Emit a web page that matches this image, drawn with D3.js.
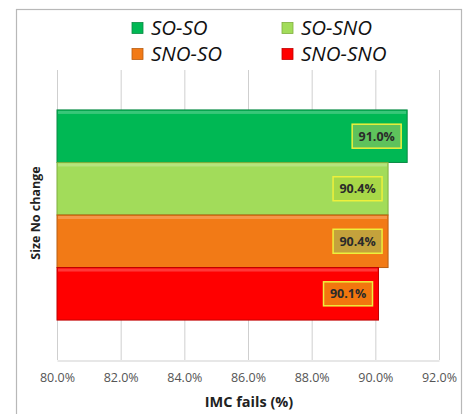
<!DOCTYPE html>
<html>
<head>
<meta charset="utf-8">
<script src="https://cdn.jsdelivr.net/npm/d3@7/dist/d3.min.js"></script>
<style>
  html, body { margin: 0; padding: 0; background: #fff; }
  svg { display: block; }
</style>
</head>
<body>
<svg id="chart" width="464" height="414"></svg>
<script>
// Chart data
const group = ["Size No change"];
const seriesNames = ["SO-SO", "SO-SNO", "SNO-SO", "SNO-SNO"];
const seriesValues = [91.0, 90.4, 90.4, 90.1];
const seriesColors = ["#00b854", "#a2dc5a", "#f27a16", "#ff0000"];
const edgeColors = ["#0a8a44", "#7fae3e", "#b85e12", "#c00000"];
const labelFills = ["#5ec25c", "#a8d848", "#c4a23c", "#f2760e"];
const xTicks = [80, 82, 84, 86, 88, 90, 92];

const svg = d3.select("#chart");
const plot = { left: 57, right: 439, top: 70, bottom: 360 };
const font = "'Open Sans', 'Liberation Sans', sans-serif";

// Outer chart frame
svg.append("rect")
  .attr("x", 16.5).attr("y", 9.5)
  .attr("width", 445).attr("height", 420)
  .attr("fill", "#fff").attr("stroke", "#b8b8b8").attr("stroke-width", 1.2);

const x = d3.scaleLinear().domain([80, 92]).range([plot.left, plot.right]);
const y0 = d3.scaleBand().domain(group).range([plot.top, plot.bottom]).paddingInner(0).paddingOuter(0.19);
const y1 = d3.scaleBand().domain(seriesNames).range([0, y0.bandwidth()]).padding(0);

// Vertical gridlines
svg.append("g").selectAll("line").data(xTicks).join("line")
  .attr("x1", d => x(d) + 0.5).attr("x2", d => x(d) + 0.5)
  .attr("y1", plot.top).attr("y2", plot.bottom)
  .attr("stroke", "#cfcfcf").attr("stroke-width", 1);

// Bottom axis
const xAxis = d3.axisBottom(x).tickValues(xTicks).tickSize(0).tickPadding(13)
  .tickFormat(d => d.toFixed(1) + "%");
const ax = svg.append("g").attr("transform", `translate(0,${plot.bottom + 0.5})`).call(xAxis);
ax.select(".domain").attr("stroke", "#cfcfcf");
ax.selectAll("text")
  .attr("font-family", font)
  .attr("font-size", 12.5).attr("fill", "#555");

// Bars
const rows = seriesNames.map((s, i) => ({ name: s, value: seriesValues[i], i }));
const bars = svg.append("g").attr("transform", `translate(0,${y0(group[0])})`);
bars.selectAll("rect.bar").data(rows).join("rect")
  .attr("class", "bar")
  .attr("x", x(80)).attr("y", d => y1(d.name))
  .attr("width", d => x(d.value) - x(80)).attr("height", y1.bandwidth())
  .attr("fill", d => seriesColors[d.i])
  .attr("stroke", d => edgeColors[d.i]).attr("stroke-width", 1);
// top highlight for a bevelled look
bars.selectAll("rect.hl").data(rows).join("rect")
  .attr("class", "hl")
  .attr("x", x(80) + 1).attr("y", d => y1(d.name) + 1)
  .attr("width", d => x(d.value) - x(80) - 2).attr("height", 3)
  .attr("fill", "#fff").attr("opacity", 0.22);

// Value labels in boxes near the bar ends
const lw = 49, lh = 24;
const lab = bars.selectAll("g.lab").data(rows).join("g").attr("class", "lab")
  .attr("transform", d => `translate(${x(d.value) - 6 - lw},${y1(d.name) + (y1.bandwidth() - lh) / 2})`);
lab.append("rect").attr("width", lw).attr("height", lh)
  .attr("fill", d => labelFills[d.i]).attr("stroke", "#eef03c").attr("stroke-width", 1.5);
lab.append("text").attr("x", lw / 2).attr("y", lh / 2 + 4.5)
  .attr("text-anchor", "middle")
  .attr("font-family", font)
  .attr("font-weight", "bold").attr("font-size", 12.5).attr("fill", "#2a2a2a")
  .text(d => d.value.toFixed(1) + "%");

// Axis titles
svg.append("text").attr("x", (plot.left + plot.right) / 2 + 1).attr("y", 407)
  .attr("text-anchor", "middle")
  .attr("font-family", font)
  .attr("font-weight", "bold").attr("font-size", 14.5).attr("fill", "#222")
  .text("IMC fails (%)");
svg.append("text")
  .attr("transform", `translate(40,${(plot.top + plot.bottom) / 2 - 2}) rotate(-90)`)
  .attr("text-anchor", "middle")
  .attr("font-family", font)
  .attr("font-weight", "bold").attr("font-size", 12.5).attr("fill", "#222")
  .text(group[0]);

// Legend (two columns, two rows)
const legPos = [[132, 28], [282, 28], [132, 54], [282, 54]];
const leg = svg.append("g").selectAll("g").data(rows).join("g")
  .attr("transform", d => `translate(${legPos[d.i][0]},${legPos[d.i][1]})`);
leg.append("rect").attr("x", 0).attr("y", -5.5).attr("width", 11).attr("height", 11)
  .attr("fill", d => seriesColors[d.i]).attr("stroke", d => edgeColors[d.i]).attr("stroke-width", 0.8);
leg.append("text").attr("x", 19).attr("y", 7)
  .attr("font-family", font)
  .attr("font-style", "italic").attr("font-size", 20.5).attr("fill", "#111")
  .text(d => d.name);
</script>
</body>
</html>
